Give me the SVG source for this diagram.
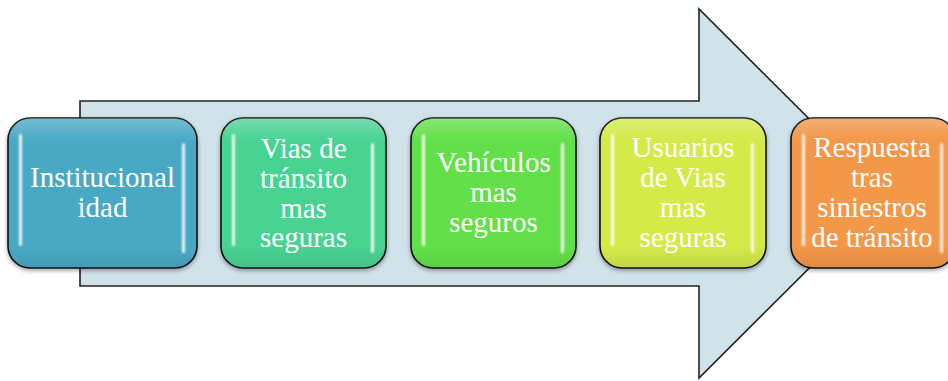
<svg xmlns="http://www.w3.org/2000/svg" width="948" height="381" viewBox="0 0 948 381">
<defs>
<style>
.box{stroke:#111;stroke-width:1.6}
.t{font-family:"Liberation Serif","Times New Roman",serif;font-size:29px;fill:#fff;text-anchor:middle}
.hl{fill:#fff;opacity:0.9;filter:url(#glow)}
</style>
<filter id="sh" x="-10%" y="-10%" width="120%" height="125%">
<feDropShadow dx="0" dy="2" stdDeviation="2" flood-color="#000" flood-opacity="0.35"/>
</filter>
<filter id="glow" x="-200%" y="-10%" width="500%" height="120%">
<feGaussianBlur stdDeviation="0.9"/>
</filter>
<linearGradient id="gloss" x1="0" y1="0" x2="0" y2="1">
<stop offset="0" stop-color="#fff" stop-opacity="0.25"/>
<stop offset="0.15" stop-color="#fff" stop-opacity="0"/>
<stop offset="0.85" stop-color="#000" stop-opacity="0"/>
<stop offset="1" stop-color="#000" stop-opacity="0.08"/>
</linearGradient>
</defs>
<g id="arrow">
<path d="M80,101 L699,101 L699,9 L884,193.5 L699,378 L699,286 L80,286 Z" fill="#D0E2EA" stroke="#222" stroke-width="1.6" stroke-linejoin="miter"/>
</g>
<g id="node1">
<rect class="box" x="8" y="118" width="189" height="150" rx="22" fill="#4AA9C4" filter="url(#sh)"/>
<rect x="8" y="118" width="189" height="150" rx="22" fill="url(#gloss)"/>
<rect class="hl" x="19" y="134" width="3" height="112" rx="1.5"/>
<rect class="hl" x="182" y="143" width="3" height="110" rx="1.5"/>
<text class="t" x="102.5" y="187">Institucional</text>
<text class="t" x="102.5" y="217">idad</text>
</g>
<g id="node2">
<rect class="box" x="221" y="118" width="165" height="150" rx="22" fill="#48D393" filter="url(#sh)"/>
<rect x="221" y="118" width="165" height="150" rx="22" fill="url(#gloss)"/>
<rect class="hl" x="232" y="134" width="3" height="112" rx="1.5"/>
<rect class="hl" x="371" y="143" width="3" height="110" rx="1.5"/>
<text class="t" x="303.5" y="158">Vias de</text>
<text class="t" x="303.5" y="188">tránsito</text>
<text class="t" x="303.5" y="218">mas</text>
<text class="t" x="303.5" y="247">seguras</text>
</g>
<g id="node3">
<rect class="box" x="411" y="118" width="165" height="150" rx="22" fill="#63E04A" filter="url(#sh)"/>
<rect x="411" y="118" width="165" height="150" rx="22" fill="url(#gloss)"/>
<rect class="hl" x="422" y="134" width="3" height="112" rx="1.5"/>
<rect class="hl" x="561" y="143" width="3" height="110" rx="1.5"/>
<text class="t" x="493.5" y="172">Vehículos</text>
<text class="t" x="493.5" y="202">mas</text>
<text class="t" x="493.5" y="232">seguros</text>
</g>
<g id="node4">
<rect class="box" x="600" y="118" width="166" height="150" rx="22" fill="#D3EA49" filter="url(#sh)"/>
<rect x="600" y="118" width="166" height="150" rx="22" fill="url(#gloss)"/>
<rect class="hl" x="611" y="134" width="3" height="112" rx="1.5"/>
<rect class="hl" x="751" y="143" width="3" height="110" rx="1.5"/>
<text class="t" x="683" y="157">Usuarios</text>
<text class="t" x="683" y="187">de Vias</text>
<text class="t" x="683" y="217">mas</text>
<text class="t" x="683" y="247">seguras</text>
</g>
<g id="node5">
<rect class="box" x="791" y="118" width="164" height="150" rx="22" fill="#F3974A" filter="url(#sh)"/>
<rect x="791" y="118" width="164" height="150" rx="22" fill="url(#gloss)"/>
<rect class="hl" x="802" y="134" width="3" height="112" rx="1.5"/>
<rect class="hl" x="940" y="143" width="3" height="110" rx="1.5"/>
<text class="t" x="872" y="157">Respuesta</text>
<text class="t" x="872" y="187">tras</text>
<text class="t" x="872" y="217">siniestros</text>
<text class="t" x="872" y="247">de tránsito</text>
</g>
</svg>
